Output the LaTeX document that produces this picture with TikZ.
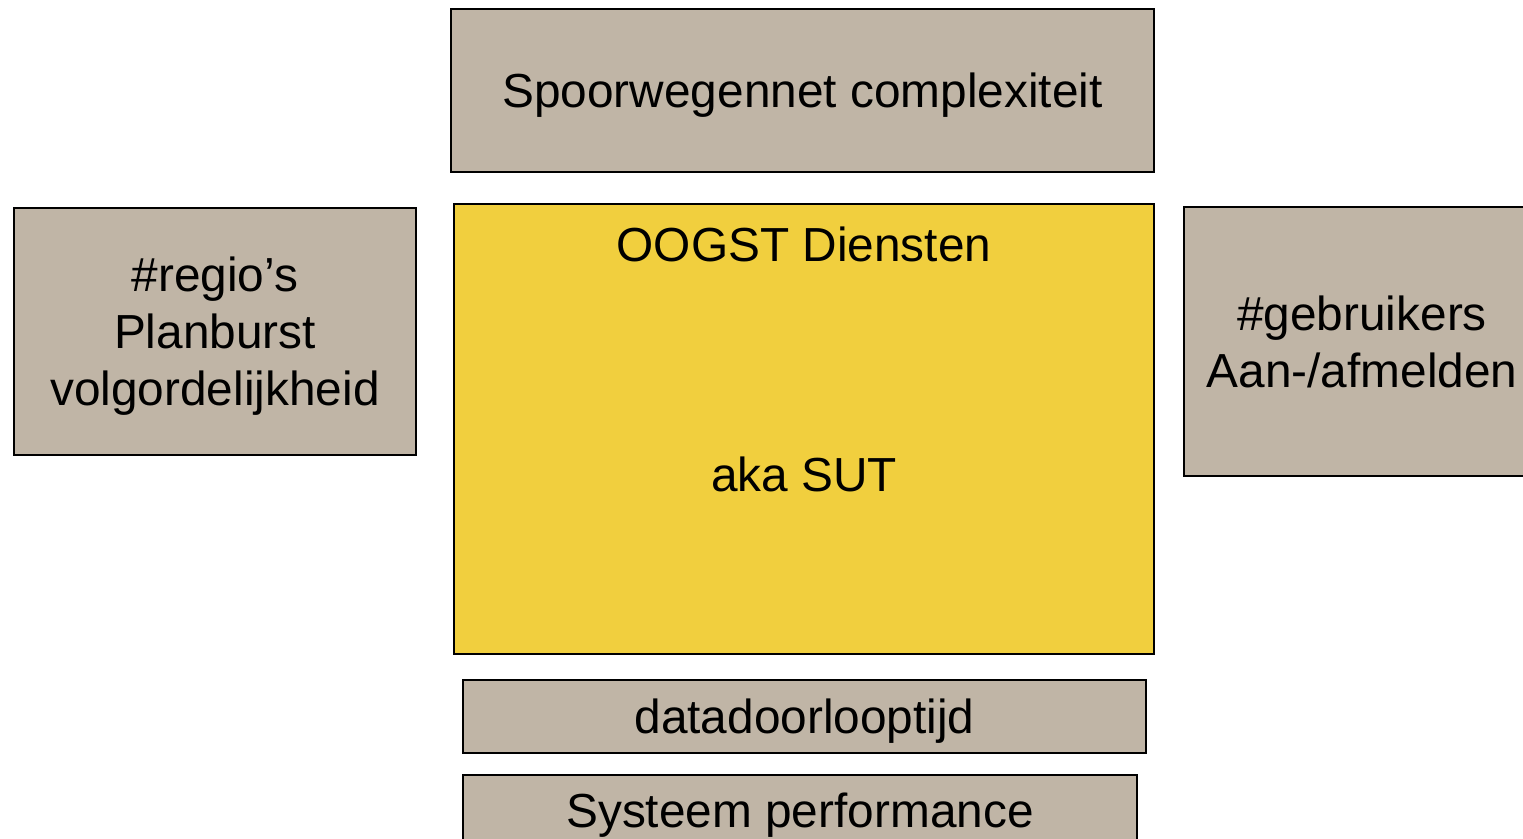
\documentclass[tikz,border=0pt]{standalone}
\usepackage{fontspec}
\setmainfont{Liberation Sans}
\definecolor{taupe}{RGB}{192,181,166}
\definecolor{sutyellow}{RGB}{241,207,62}
\begin{document}
\begin{tikzpicture}
    [x=0.02cm, y=-0.02cm,
     box/.style={rectangle, draw, line width=1.1pt, fill=taupe, inner sep=0pt, outer sep=0pt,
                 align=center, text depth=0pt, font=\fontsize{27.2}{32.4}\selectfont},
     lbl/.style={inner sep=0pt, font=\fontsize{27.2}{32.4}\selectfont}]
    \useasboundingbox (0,0) rectangle (1523,838);
    \clip (0,0) rectangle (1523,838);

    \node[box, minimum width=14.06cm, minimum height=3.26cm] (complex) at (802.5,90.5) {Spoorwegennet complexiteit};
    \node[box, minimum width=8.04cm, minimum height=4.94cm] (regio) at (215,331.5) {\#regio’s\\Planburst\\volgordelijkheid};
    \node[box, fill=sutyellow, minimum width=14cm, minimum height=9cm] (sut) at (804,429) {};
    \node[box, minimum width=7.12cm, minimum height=5.38cm] (users) at (1362,341.5) {\#gebruikers\\Aan-/afmelden};
    \node[box, minimum width=13.66cm, minimum height=1.46cm] (data) at (804.5,716.5) {datadoorlooptijd};
    \node[box, minimum width=13.48cm, minimum height=1.4cm] (perf) at (800,810) {Systeem performance};

    \node[lbl] (diensten) at (804,244) {OOGST Diensten};
    \node[lbl] (aka) at (804,474) {aka SUT};

\end{tikzpicture}
\end{document}
